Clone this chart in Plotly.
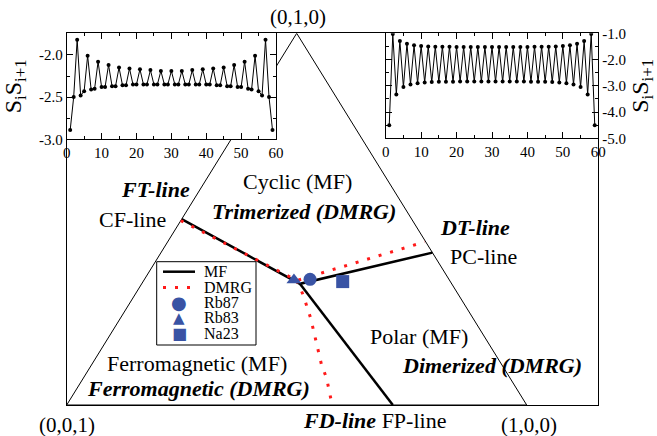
import plotly.graph_objects as go

W, H = 657, 436
FONT = "Liberation Serif"

# ---------------- inset data (bond energies S_i S_{i+1}) ----------------
sites = list(range(1, 60))
bond_left = [-2.89, -2.50, -1.82, -2.48, -2.43, -2.01, -2.41, -2.40, -2.08, -2.38,
             -2.38, -2.12, -2.37, -2.37, -2.15, -2.36, -2.36, -2.16, -2.35, -2.35,
             -2.17, -2.35, -2.35, -2.18, -2.35, -2.35, -2.19, -2.35, -2.35, -2.19,
             -2.35, -2.35, -2.19, -2.35, -2.35, -2.18, -2.35, -2.35, -2.17, -2.35,
             -2.35, -2.16, -2.36, -2.36, -2.15, -2.37, -2.37, -2.12, -2.38, -2.38,
             -2.08, -2.40, -2.41, -2.01, -2.43, -2.48, -1.82, -2.50, -2.89]
bond_right = [-4.50, -1.03, -3.33, -1.29, -3.05, -1.40, -2.95, -1.46, -2.90, -1.48,
              -2.87, -1.50, -2.86, -1.51, -2.85, -1.51, -2.85, -1.51, -2.85, -1.52,
              -2.84, -1.52, -2.84, -1.52, -2.84, -1.52, -2.84, -1.52, -2.84, -1.52,
              -2.84, -1.52, -2.84, -1.52, -2.84, -1.52, -2.84, -1.52, -2.84, -1.52,
              -2.85, -1.51, -2.85, -1.51, -2.85, -1.51, -2.86, -1.50, -2.87, -1.48,
              -2.90, -1.46, -2.95, -1.40, -3.05, -1.29, -3.33, -1.03, -4.50]

x_ticks = [0, 10, 20, 30, 40, 50, 60]
left_yticks = [-3.0, -2.5, -2.0]
left_yticktext = ["-3.0", "-2.5", "-2.0"]
right_yticks = [-5.0, -4.0, -3.0, -2.0, -1.0]
right_yticktext = ["-5.0", "-4.0", "-3.0", "-2.0", "-1.0"]

# ---------------- phase diagram data (ternary coords a, b; c = 1-a-b) ----------------
tri_a = [0.0, 1.0, 0.0, 0.0]
tri_b = [0.0, 0.0, 1.0, 0.0]

mf_a = [0.0, 0.344, 0.590, None, 0.344, 0.709]
mf_b = [0.500, 0.326, 0.410, None, 0.326, 0.0]

dmrg_a = [0.0, 0.333, 0.559, None, 0.333, 0.366, 0.414, 0.458, 0.500, 0.529, 0.551, 0.577]
dmrg_b = [0.496, 0.335, 0.439, None, 0.335, 0.296, 0.233, 0.170, 0.108, 0.072, 0.040, 0.0]

atoms = ["Rb87", "Rb83", "Na23"]
atom_symbols = ["circle", "triangle-up", "square"]
atom_glyphs = ["\u25CF", "\u25B2", "\u25A0"]
atom_a = [0.360, 0.326, 0.434]
atom_b = [0.338, 0.336, 0.332]


def to_xy(a_list, b_list):
    xs, ys = [], []
    for a, b in zip(a_list, b_list):
        if a is None:
            xs.append(None); ys.append(None)
        else:
            xs.append(a + b / 2.0); ys.append(b)
    return xs, ys


BLUE = "#3953a4"
RED = "#ff1a1a"
DMRG_DASH = "3px,9px"

fig = go.Figure()

tx, ty = to_xy(tri_a, tri_b)
fig.add_trace(go.Scatter(x=tx, y=ty, mode="lines", line=dict(color="black", width=1),
                         showlegend=False, hoverinfo="skip"))

mx, my = to_xy(mf_a, mf_b)
fig.add_trace(go.Scatter(x=mx, y=my, mode="lines", name="MF", showlegend=False,
                         line=dict(color="black", width=2.5)))

dx, dy = to_xy(dmrg_a, dmrg_b)
fig.add_trace(go.Scatter(x=dx, y=dy, mode="lines", name="DMRG", showlegend=False,
                         line=dict(color=RED, width=3, dash=DMRG_DASH)))

for name, sym, a, b in zip(atoms, atom_symbols, atom_a, atom_b):
    ax_, ay_ = to_xy([a], [b])
    fig.add_trace(go.Scatter(x=ax_, y=ay_, mode="markers", name=name, showlegend=False,
                             marker=dict(symbol=sym, size=13, color=BLUE)))

# insets
fig.add_trace(go.Scatter(x=sites, y=bond_left, mode="lines+markers", xaxis="x2", yaxis="y2",
                         line=dict(color="black", width=1), marker=dict(color="black", size=4),
                         showlegend=False))
fig.add_trace(go.Scatter(x=sites, y=bond_right, mode="lines+markers", xaxis="x3", yaxis="y3",
                         line=dict(color="black", width=1), marker=dict(color="black", size=4),
                         showlegend=False))


def px(x):
    return x / W


def py(y):
    return 1 - y / H


main_ax = dict(showline=True, mirror=True, linecolor="black", linewidth=1, automargin=False,
               showticklabels=False, ticks="", showgrid=False, zeroline=False)

inset_common = dict(showline=True, mirror="ticks", linecolor="black", linewidth=1, automargin=False,
                    ticks="inside", ticklen=6, tickcolor="black", showgrid=False, zeroline=False,
                    tickfont=dict(family=FONT, size=15, color="black"))

fig.update_layout(
    width=W, height=H,
    margin=dict(l=0, r=0, t=0, b=0, autoexpand=False),
    paper_bgcolor="white", plot_bgcolor="white",
    font=dict(family=FONT, color="black"),
    showlegend=False,
    xaxis=dict(domain=[px(66.7), px(597.7)], range=[0, 531 / 460], anchor="y", **main_ax),
    yaxis=dict(domain=[py(405), py(33.3)], range=[0, 1], anchor="x", **main_ax),
    xaxis2=dict(domain=[px(66.7), px(276)], range=[0, 60], anchor="y2", tickvals=x_ticks,
                minor=dict(ticks="inside", dtick=5, ticklen=3, tickcolor="black"), **inset_common),
    yaxis2=dict(domain=[py(139.3), py(33.3)], range=[-3.0, -1.744], anchor="x2",
                tickvals=left_yticks, ticktext=left_yticktext,
                minor=dict(ticks="inside", dtick=0.25, ticklen=3, tickcolor="black"),
                title=dict(text="S<sub>i</sub>S<sub>i+1</sub>", font=dict(family=FONT, size=24),
                           standoff=10), **inset_common),
    xaxis3=dict(domain=[px(385.7), px(598.3)], range=[0, 60], anchor="y3", tickvals=x_ticks,
                minor=dict(ticks="inside", dtick=5, ticklen=3, tickcolor="black"), **inset_common),
    yaxis3=dict(domain=[py(138.3), py(33.3)], range=[-5.0, -1.0], anchor="x3", side="right",
                tickvals=right_yticks, ticktext=right_yticktext,
                minor=dict(ticks="inside", dtick=0.5, ticklen=3, tickcolor="black"),
                title=dict(text="S<sub>i</sub>S<sub>i+1</sub>", font=dict(family=FONT, size=24),
                           standoff=6), **inset_common),
)

# ---------------- legend (drawn as layout shapes / texts) ----------------
LEG_L, LEG_T, LEG_R, LEG_B = 156.7, 261.7, 256.0, 345.0
row_y = [271.7, 287.5, 302.3, 317.5, 333.5]
key_x0, key_x1, text_x = 163, 195, 202.5
legend_names = ["MF", "DMRG"] + atoms

fig.add_shape(type="rect", xref="paper", yref="paper", x0=px(LEG_L), x1=px(LEG_R),
              y0=py(LEG_B), y1=py(LEG_T), line=dict(color="black", width=1),
              fillcolor="white", layer="above")
fig.add_shape(type="line", xref="paper", yref="paper", x0=px(key_x0), x1=px(key_x1),
              y0=py(row_y[0]), y1=py(row_y[0]), line=dict(color="black", width=2.5), layer="above")
fig.add_shape(type="line", xref="paper", yref="paper", x0=px(key_x0), x1=px(key_x1),
              y0=py(row_y[1]), y1=py(row_y[1]), line=dict(color=RED, width=3, dash=DMRG_DASH),
              layer="above")
for glyph, yy, gs in zip(atom_glyphs, row_y[2:], [18, 15, 16]):
    fig.add_annotation(text=glyph, x=px((key_x0 + key_x1) / 2), y=py(yy), xref="paper", yref="paper",
                       xanchor="center", yanchor="middle", showarrow=False, borderpad=0,
                       font=dict(family="DejaVu Sans", size=gs, color=BLUE))
for name, yy in zip(legend_names, row_y):
    fig.add_annotation(text=name, x=px(text_x), y=py(yy), xref="paper", yref="paper",
                       xanchor="left", yanchor="middle", showarrow=False, borderpad=0,
                       font=dict(family=FONT, size=16, color="black"))

labels = [
    ("(0,1,0)", 297.5, 17, 21),
    ("(0,0,1)", 66.7, 425, 21),
    ("(1,0,0)", 529, 425, 21),
    ("<b><i>FD-line</i></b> FP-line", 374.5, 420, 22),
    ("Polar (MF)", 418.5, 336.7, 22),
    ("<b><i>Dimerized (DMRG)</i></b>", 492, 365.7, 22),
    ("Ferromagnetic (MF)", 197.3, 363.3, 22),
    ("<b><i>Ferromagnetic (DMRG)</i></b>", 198.5, 388, 22),
    ("<b><i>FT-line</i></b>", 155, 189.3, 22),
    ("CF-line", 132.3, 219, 22),
    ("Cyclic (MF)", 297.5, 181.7, 22),
    ("<b><i>Trimerized (DMRG)</i></b>", 304, 211, 22),
    ("<b><i>DT-line</i></b>", 474.5, 227.3, 22),
    ("PC-line", 483, 256.7, 22),
]
for text, x, y, s in labels:
    fig.add_annotation(text=text, x=px(x), y=py(y), xref="paper", yref="paper",
                       xanchor="center", yanchor="middle", showarrow=False,
                       font=dict(family=FONT, size=s, color="black"))

fig.write_html("out.html", config={"displayModeBar": False},
               post_script="document.body.style.margin='0';document.body.style.overflow='hidden';")
